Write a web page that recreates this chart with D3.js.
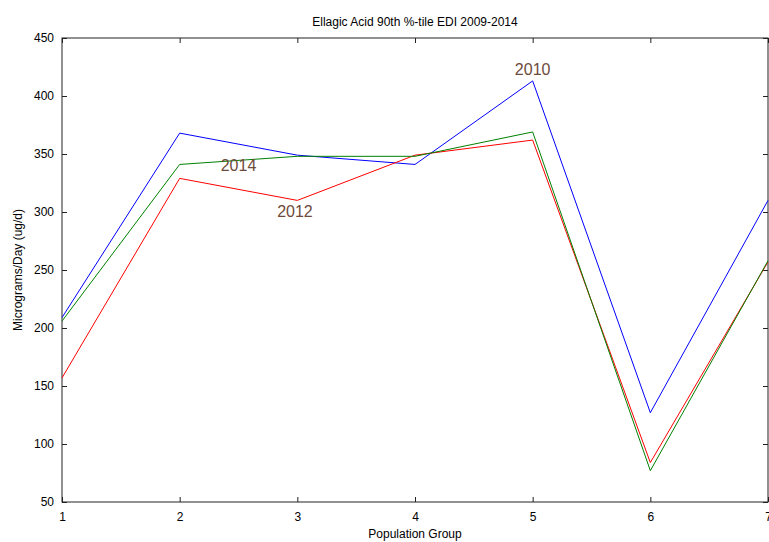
<!DOCTYPE html>
<html>
<head>
<meta charset="utf-8">
<script src="https://cdn.jsdelivr.net/npm/d3@7"></script>
<style>
  body { margin: 0; background: #fff; }
  svg text { font-family: "Liberation Sans", Arial, sans-serif; }
</style>
</head>
<body>
<div id="chart"></div>
<script>
var groups = [1, 2, 3, 4, 5, 6, 7];
var yTicks = [50, 100, 150, 200, 250, 300, 350, 400, 450];
var values2010 = [209, 368, 349, 341, 413, 127, 310];
var values2012 = [157, 329, 310, 349, 362, 84, 257];
var values2014 = [206, 341, 348, 348, 369, 77, 258];

var series = [
  {name: "2010", color: "#0000ff", values: values2010},
  {name: "2012", color: "#ff0000", values: values2012},
  {name: "2014", color: "#008000", values: values2014}
];

// year labels, placed in data units next to the lines
var labels = [
  {text: "2010", x: 5, y: 418},
  {text: "2012", x: 2.98, y: 296},
  {text: "2014", x: 2.5, y: 335}
];

var width = 769, height = 542;
var margin = {top: 38, right: 1, bottom: 40, left: 62};

var svg = d3.select("#chart").append("svg")
  .attr("width", width)
  .attr("height", height);

var x = d3.scaleLinear().domain([1, 7]).range([margin.left, width - margin.right]);
var y = d3.scaleLinear().domain([50, 450]).range([height - margin.bottom, margin.top]);

// plot box
svg.append("rect")
  .attr("x", x(1)).attr("y", y(450))
  .attr("width", x(7) - x(1)).attr("height", y(50) - y(450))
  .attr("fill", "none").attr("stroke", "#222").attr("stroke-width", 1);

// axes with inward ticks on all four sides
var xAxis = svg.append("g")
  .attr("transform", "translate(0," + y(50) + ")")
  .call(d3.axisBottom(x).tickValues(groups).tickFormat(d3.format("d"))
    .tickSizeInner(-5).tickSizeOuter(0).tickPadding(10));
xAxis.select(".domain").remove();

var xTop = svg.append("g")
  .attr("transform", "translate(0," + y(450) + ")")
  .call(d3.axisTop(x).tickValues(groups).tickSizeInner(-5).tickSizeOuter(0).tickFormat(""));
xTop.select(".domain").remove();

var yAxis = svg.append("g")
  .attr("transform", "translate(" + x(1) + ",0)")
  .call(d3.axisLeft(y).tickValues(yTicks).tickFormat(d3.format("d"))
    .tickSizeInner(-5).tickSizeOuter(0).tickPadding(8));
yAxis.select(".domain").remove();

var yRight = svg.append("g")
  .attr("transform", "translate(" + x(7) + ",0)")
  .call(d3.axisRight(y).tickValues(yTicks).tickSizeInner(-5).tickSizeOuter(0).tickFormat(""));
yRight.select(".domain").remove();

svg.selectAll(".tick text").attr("font-size", 12).attr("fill", "#000")
  .style("font-family", "'Liberation Sans', Arial, sans-serif");
svg.selectAll(".tick line").attr("stroke", "#222");

// lines
var line = d3.line()
  .x(function(d, i) { return x(groups[i]); })
  .y(function(d) { return y(d); });

svg.selectAll(".series")
  .data(series)
  .enter().append("path")
  .attr("class", "series")
  .attr("d", function(d) { return line(d.values); })
  .attr("fill", "none")
  .attr("stroke", function(d) { return d.color; })
  .attr("stroke-width", 1);

svg.selectAll(".lbl")
  .data(labels)
  .enter().append("text")
  .attr("class", "lbl")
  .attr("x", function(d) { return x(d.x); })
  .attr("y", function(d) { return y(d.y); })
  .attr("text-anchor", "middle")
  .attr("font-size", 16)
  .attr("fill", "#6e4a3a")
  .text(function(d) { return d.text; });

// title and axis labels
svg.append("text")
  .attr("x", (x(1) + x(7)) / 2)
  .attr("y", 26)
  .attr("text-anchor", "middle")
  .attr("font-size", 12)
  .text("Ellagic Acid 90th %-tile EDI 2009-2014");

svg.append("text")
  .attr("x", (x(1) + x(7)) / 2)
  .attr("y", 538)
  .attr("text-anchor", "middle")
  .attr("font-size", 12)
  .text("Population Group");

svg.append("text")
  .attr("transform", "translate(22," + y(250) + ") rotate(-90)")
  .attr("text-anchor", "middle")
  .attr("font-size", 12)
  .text("Micrograms/Day (ug/d)");
</script>
</body>
</html>
